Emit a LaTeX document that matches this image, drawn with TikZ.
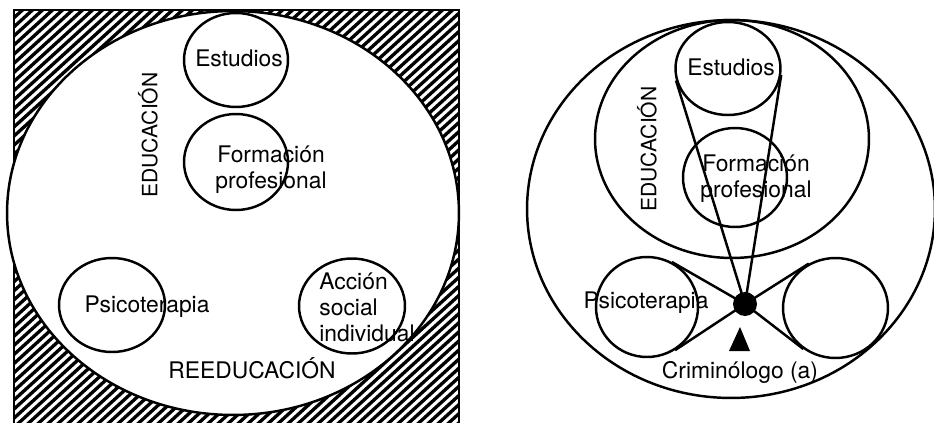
\documentclass[tikz,border=0pt]{standalone}
\usepackage{fontspec}
\setmainfont{TeX Gyre Heros}
\usetikzlibrary{shapes.geometric}

\begin{document}
\begin{tikzpicture}
      [x=0.02cm, y=-0.02cm, line width=1.4pt,
      ring/.style={draw, ellipse, inner sep=0pt},
      txt/.style={font=\fontsize{13}{14.8}\selectfont, align=center, inner sep=0pt},
      uptxt/.style={font=\fontsize{12}{14}\selectfont, rotate=90, inner sep=0pt},
      hatch/.style={line width=1.9pt}]
      \useasboundingbox (0,0) rectangle (934,423);
      \clip (0,0) rectangle (934,423);
      % left panel
      \begin{scope}
        \clip (14,10) rectangle (459,430);
        \foreach \i in {-52,...,47}
          \draw[hatch] (\i*10,440) -- ++(500,-455);
      \end{scope}
      \draw (14,430) |- (459,10) -- (459,430);
      \node[ring, fill=white, minimum width=9.04cm, minimum height=8.08cm] (bigL) at (233,213) {};
      \node[ring, minimum width=2.08cm, minimum height=1.88cm] (estL) at (236,60) {};
      \node[ring, minimum width=2.08cm, minimum height=1.92cm] (forL) at (236,162) {};
      \node[ring, minimum width=2.12cm, minimum height=1.88cm] (psiL) at (112,305) {};
      \node[ring, minimum width=2.12cm, minimum height=1.90cm] (accL) at (352,306) {};
      \node[txt] (estLt) at (239,58) {Estudios};
      \node[txt] (forLt) at (271,170) {Formación\\profesional};
      \node[txt] (psiLt) at (147,307) {Psicoterapia};
      \node[txt, align=left] (accLt) at (367,307) {Acción\\social\\individual};
      \node[txt] (reeduc) at (252,368) {REEDUCACIÓN};
      \node[uptxt] (eduL) at (148,135) {EDUCACIÓN};
      % right panel
      \node[ring, minimum width=8.16cm, minimum height=7.56cm] (outR) at (731,209) {};
      \node[ring, minimum width=5.48cm, minimum height=4.76cm] (eduRing) at (732,139) {};
      \node[ring, minimum width=2.10cm, minimum height=1.86cm] (estR) at (728,68.5) {};
      \node[ring, minimum width=2.08cm, minimum height=1.98cm] (forR) at (735,177.5) {};
      \node[ring, minimum width=2.04cm, minimum height=2.00cm] (psiR) at (647,307) {};
      \node[ring, minimum width=2.10cm, minimum height=2.00cm] (cirR) at (835.5,308) {};
      \node[circle, fill, inner sep=0pt, minimum size=0.48cm] (crimDot) at (745,304) {};
      \draw (estR.193) -- (crimDot.center) -- (estR.-7);
      \draw (psiR.61) -- (crimDot.center) -- (psiR.-57);
      \draw (cirR.121) -- (crimDot.center) -- (cirR.232);
      \fill (740,327) -- (729,351) -- (750,351) -- cycle;
      \node[txt] (estRt) at (731,67) {Estudios};
      \node[txt] (forRt) at (756,178.5) {Formación\\profesional};
      \node[txt] (psiRt) at (646,303) {Psicoterapia};
      \node[uptxt] (eduR) at (647,149) {EDUCACIÓN};
      \node[txt] (crim) at (740,372) {Criminólogo (a)};
    \end{tikzpicture}
\end{document}
